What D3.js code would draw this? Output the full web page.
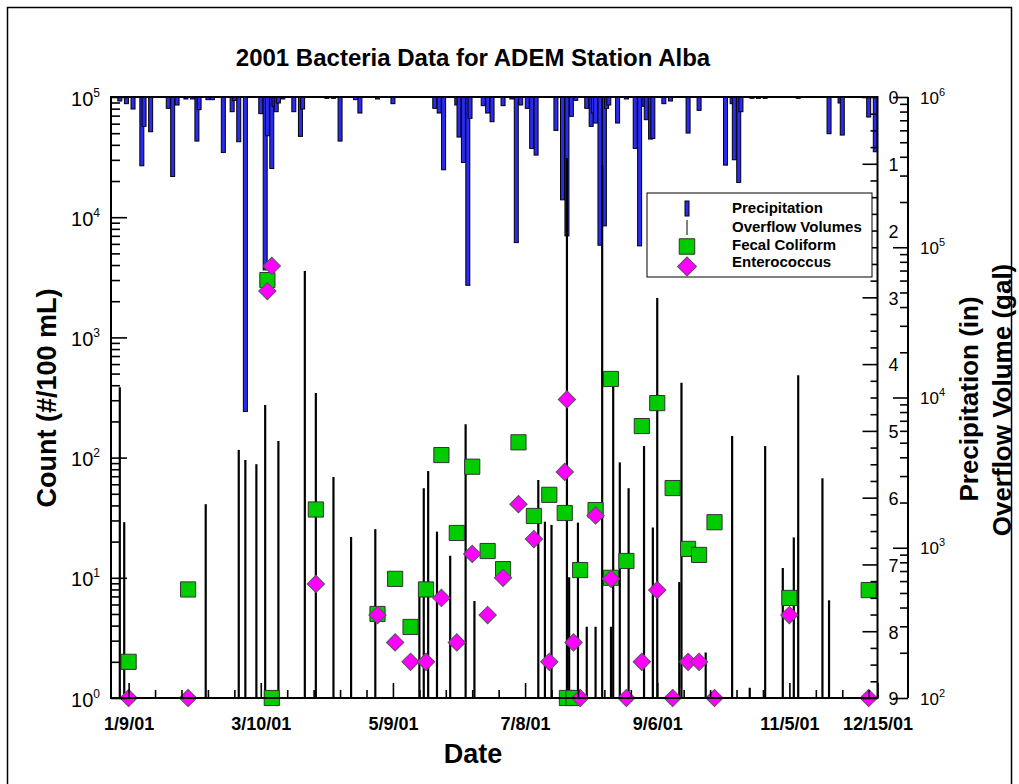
<!DOCTYPE html>
<html><head><meta charset="utf-8">
<script src="https://cdn.jsdelivr.net/npm/d3@7"></script>
<style>
body{margin:0;background:#fff}
svg{display:block;font-family:"Liberation Sans",Arial,Helvetica,sans-serif}
</style></head><body>
<svg id="c" width="1019" height="784"></svg>
<script>
// ---------- data ----------
const precipDates = ["01-05","01-08","01-11","01-15","01-16","01-19","01-27","01-29","01-31","02-04","02-07","02-09","02-10","02-14","02-16","02-21","02-25","02-26","02-28","03-03","03-10","03-12","03-13","03-15","03-16","03-17","03-18","03-20","03-25","03-28","03-29","04-09","04-12","04-15","04-22","04-24","05-02","05-09","05-28","05-30","06-01","06-07","06-08","06-10","06-12","06-13","06-19","06-21","06-23","06-28","07-02","07-04","07-06","07-09","07-11","07-13","07-22","07-25","07-27","07-29","07-31","08-05","08-07","08-08","08-09","08-11","08-13","08-14","08-15","08-19","08-23","08-27","08-29","08-31","09-01","09-03","09-04","09-09","09-12","09-20","09-25","10-07","10-10","10-11","10-13","10-14","10-19","10-22","10-25","11-09","11-23","11-28","11-29","12-11","12-14"];
const precipInches = [0.06,0.10,0.18,1.03,0.44,0.52,0.17,1.19,0.12,0.03,0.03,0.66,0.19,0.04,0.04,0.83,0.22,0.05,0.67,4.71,0.25,2.59,0.58,1.07,0.14,0.22,0.09,0.03,0.22,0.59,0.18,0.02,0.02,0.66,0.04,0.24,0.03,0.10,0.17,0.24,1.09,0.12,0.60,0.98,2.82,0.32,0.13,0.24,0.37,0.13,0.03,2.18,0.12,0.17,0.77,0.87,0.50,1.54,2.08,0.29,0.05,0.17,0.44,0.24,0.39,2.22,1.93,0.17,0.12,0.39,0.03,0.77,2.23,0.14,0.34,0.63,0.62,0.10,0.06,0.54,0.20,1.02,0.10,0.94,1.28,0.22,0.02,0.02,0.02,0.02,0.55,0.09,0.57,0.30,0.82];

const overflowDates = ["01-05","01-07","02-13","02-28","03-03","03-08","03-12","03-18","03-30","04-04","04-12","04-20","05-01","05-21","05-23","05-25","05-29","06-04","06-11","06-15","07-14","07-17","07-20","07-27","07-28","08-01","08-05","08-09","08-12","08-16","08-17","08-20","08-24","08-31","09-04","09-06","09-16","09-17","09-28","10-10","10-18","10-25","11-02","11-07","11-09","11-20","11-23"];
const overflowGallons = [11700,1480,1950,4480,3840,3600,8900,5140,69500,10700,2960,1180,1330,520,2490,3240,1280,885,6640,442,2825,1490,1420,393000,636,1470,298,298,352000,298,11800,3700,2490,4750,1364,45900,592,12560,201,5540,117,4750,733,1172,14070,2900,447];

const fecalDates = ["01-09","02-05","03-13","03-15","04-04","05-02","05-10","05-17","05-24","05-31","06-07","06-14","06-21","06-28","07-05","07-12","07-19","07-26","07-27","07-30","08-02","08-09","08-16","08-16","08-23","08-30","09-06","09-13","09-20","09-25","10-02","11-05","12-11"];
const fecalCounts = [2,8,3000,1,37,5,9.8,3.9,8,105,23.6,84,16.7,11.8,134,32.7,49,34.6,1,1,11.6,36.6,451,10,13.8,183,284,55.8,17.4,15.5,29,6.8,7.9];

const enteroDates = ["01-09","02-05","03-13","03-15","04-04","05-02","05-10","05-17","05-24","05-31","06-07","06-14","06-21","06-28","07-05","07-12","07-19","07-26","07-27","07-30","08-02","08-09","08-16","08-23","08-30","09-06","09-13","09-20","09-25","10-02","11-05","12-11"];
const enteroCounts = [1,1,2430,3930,8.9,4.9,2.9,2,2,6.8,2.9,15.8,4.9,10,41,21,2,76,305,2.9,1,33,9.8,1,2,7.9,1,2,2,1,4.9,1];

const xTickDates = ["01-09","03-10","05-09","07-08","09-06","11-05","12-15"];
const xTickLabels = ["1/9/01","3/10/01","5/9/01","7/8/01","9/6/01","11/5/01","12/15/01"];
const countTicks = [1,10,100,1000,10000,100000];
const countExponents = ["0","1","2","3","4","5"];
const precipTicks = [0,1,2,3,4,5,6,7,8,9];
const overflowTicks = [100,1000,10000,100000,1000000];
const overflowExponents = ["2","3","4","5","6"];
const legendLabels = ["Precipitation","Overflow Volumes","Fecal Coliform","Enterococcus"];

// ---------- setup ----------
const parse = s => d3.timeParse("%Y-%m-%d")("2001-" + s);
const svg = d3.select("#c");
const L = 111, R = 877.5, T = 97, B = 698, AX2 = 908;

const x = d3.scaleTime().domain([parse("01-01"), parse("12-15")]).range([L, R]);
const yCount = d3.scaleLog().domain([1, 1e5]).range([B, T]);
const yPrecip = d3.scaleLinear().domain([0, 9]).range([T, B]);
const yFlow = d3.scaleLog().domain([1e2, 1e6]).range([B, T]);

const BLUE = "#2a2af2", GREEN = "#00cc00", MAGENTA = "#ff00ff";

// outer frame
svg.append("rect").attr("x",7.5).attr("y",7.5).attr("width",1004).attr("height",820)
  .attr("fill","none").attr("stroke","#000").attr("stroke-width",1.5);

// title
svg.append("text").attr("x",473).attr("y",66).attr("text-anchor","middle")
  .attr("font-weight","bold").attr("font-size",24).text("2001 Bacteria Data for ADEM Station Alba");

// ---------- marks ----------
const plot = svg.append("g");
plot.selectAll("rect.bar").data(precipDates.map((d,i)=>({d:parse(d),v:precipInches[i]})))
  .join("rect").attr("class","bar")
  .attr("x",p=>x(p.d)-2).attr("width",4)
  .attr("y",T).attr("height",p=>yPrecip(p.v)-T)
  .attr("fill",BLUE).attr("stroke","#000").attr("stroke-width",1);

plot.selectAll("line.flow").data(overflowDates.map((d,i)=>({d:parse(d),v:overflowGallons[i]})))
  .join("line").attr("class","flow")
  .attr("x1",p=>x(p.d)).attr("x2",p=>x(p.d))
  .attr("y1",B).attr("y2",p=>yFlow(p.v))
  .attr("stroke","#000").attr("stroke-width",2.2);

const sq = d3.symbol(d3.symbolSquare, 230)();
const dm = d3.symbol(d3.symbolSquare, 150)();
plot.selectAll("path.fc").data(fecalDates.map((d,i)=>({d:parse(d),v:fecalCounts[i]})))
  .join("path").attr("class","fc").attr("d",sq)
  .attr("transform",p=>`translate(${x(p.d)},${yCount(p.v)})`)
  .attr("fill",GREEN).attr("stroke","#333").attr("stroke-width",1);
plot.selectAll("path.ec").data(enteroDates.map((d,i)=>({d:parse(d),v:enteroCounts[i]})))
  .join("path").attr("class","ec").attr("d",dm)
  .attr("transform",p=>`translate(${x(p.d)},${yCount(p.v)}) rotate(45)`)
  .attr("fill",MAGENTA).attr("stroke","#555").attr("stroke-width",1);

// ---------- frame & axes ----------
svg.append("rect").attr("x",L).attr("y",T).attr("width",R-L).attr("height",B-T)
  .attr("fill","none").attr("stroke","#000").attr("stroke-width",2);
svg.append("line").attr("x1",AX2).attr("x2",AX2).attr("y1",T).attr("y2",B)
  .attr("stroke","#000").attr("stroke-width",2);

function styleAxis(g){ g.select(".domain").remove(); g.selectAll(".tick line").attr("stroke","#000").attr("stroke-width",1.6); }

// left count axis
const countMinor = [];
for (let e=0;e<5;e++) for (let m=2;m<=9;m++) countMinor.push(m*Math.pow(10,e));
svg.append("g").attr("transform",`translate(${L},0)`)
  .call(d3.axisLeft(yCount).tickValues(countMinor).tickSize(-9).tickFormat(()=>"")).call(styleAxis);
const gl = svg.append("g").attr("transform",`translate(${L},0)`)
  .call(d3.axisLeft(yCount).tickValues(countTicks).tickSize(-16).tickFormat(()=>"")).call(styleAxis);
gl.selectAll(".tick text").remove();
gl.selectAll(".tick").append("text").attr("x",-11).attr("y",8).attr("text-anchor","end")
  .attr("fill","#000").attr("font-size",20)
  .each(function(d,i){ const t=d3.select(this); t.append("tspan").text("10");
    t.append("tspan").attr("font-size",12).attr("dy",-9).text(countExponents[i]); });

// right precip axis
const precipMinor = d3.range(0,9.001,0.25).filter(v=>Math.abs(v-Math.round(v))>1e-6);
svg.append("g").attr("transform",`translate(${R},0)`)
  .call(d3.axisRight(yPrecip).tickValues(precipMinor).tickSize(-7).tickFormat(()=>"")).call(styleAxis);
const gp = svg.append("g").attr("transform",`translate(${R},0)`)
  .call(d3.axisRight(yPrecip).tickValues(precipTicks).tickSize(-15).tickPadding(11).tickFormat(d3.format("d"))).call(styleAxis);
gp.selectAll(".tick text").attr("font-size",18).attr("dy","0.38em").attr("fill","#000");

// second right axis: overflow
const flowMinor = [];
for (let e=2;e<6;e++) for (let m=2;m<=9;m++) flowMinor.push(m*Math.pow(10,e));
svg.append("g").attr("transform",`translate(${AX2},0)`)
  .call(d3.axisRight(yFlow).tickValues(flowMinor).tickSize(-8).tickFormat(()=>"")).call(styleAxis);
const gf = svg.append("g").attr("transform",`translate(${AX2},0)`)
  .call(d3.axisRight(yFlow).tickValues(overflowTicks).tickSize(-15).tickFormat(()=>"")).call(styleAxis);
gf.selectAll(".tick text").remove();
gf.selectAll(".tick").append("text").attr("x",12).attr("y",6).attr("text-anchor","start")
  .attr("fill","#000").attr("font-size",17)
  .each(function(d,i){ const t=d3.select(this); t.append("tspan").text("10");
    t.append("tspan").attr("font-size",11).attr("dy",-8).text(overflowExponents[i]); });

// bottom date axis
const majorDates = xTickDates.map(parse);
const minorDates = [];
for (let i=0;i<majorDates.length-1;i++){
  for (let k=1;;k++){ const dd=d3.timeDay.offset(majorDates[i],12*k); if (dd>=majorDates[i+1]) break; minorDates.push(dd); }
}
svg.append("g").attr("transform",`translate(0,${B})`)
  .call(d3.axisBottom(x).tickValues(minorDates).tickSize(-8).tickFormat(()=>"")).call(styleAxis);
const gx = svg.append("g").attr("transform",`translate(0,${B})`)
  .call(d3.axisBottom(x).tickValues(majorDates).tickSize(-15).tickPadding(19).tickFormat((d,i)=>xTickLabels[i])).call(styleAxis);
gx.selectAll(".tick text").attr("font-size",18).attr("font-weight","bold").attr("fill","#000");

// axis titles
svg.append("text").attr("transform","translate(56,398) rotate(-90)").attr("text-anchor","middle")
  .attr("font-weight","bold").attr("font-size",27).text("Count (#/100 mL)");
svg.append("text").attr("x",473).attr("y",763).attr("text-anchor","middle")
  .attr("font-weight","bold").attr("font-size",27).text("Date");
svg.append("text").attr("transform","translate(978,399) rotate(-90)").attr("text-anchor","middle")
  .attr("font-weight","bold").attr("font-size",26).text("Precipitation (in)");
svg.append("text").attr("transform","translate(1011,400) rotate(-90)").attr("text-anchor","middle")
  .attr("font-weight","bold").attr("font-size",26).text("Overflow Volume (gal)");

// ---------- legend ----------
const lg = svg.append("g");
lg.append("rect").attr("x",647).attr("y",193).attr("width",225).attr("height",84)
  .attr("fill","#fff").attr("stroke","#000").attr("stroke-width",1);
lg.append("rect").attr("x",685).attr("y",201).attr("width",4).attr("height",15)
  .attr("fill",BLUE).attr("stroke","#000").attr("stroke-width",1);
lg.append("line").attr("x1",687).attr("x2",687).attr("y1",220).attr("y2",235).attr("stroke","#000").attr("stroke-width",1);
lg.append("path").attr("d",d3.symbol(d3.symbolSquare,240)()).attr("transform","translate(687,246.5)")
  .attr("fill",GREEN).attr("stroke","#333");
lg.append("path").attr("d",d3.symbol(d3.symbolSquare,180)()).attr("transform","translate(687,266.5) rotate(45)")
  .attr("fill",MAGENTA).attr("stroke","#555");
const legendY = [213, 231.7, 250, 267];
lg.selectAll("text.lt").data(legendLabels).join("text").attr("class","lt")
  .attr("x",732).attr("y",(d,i)=>legendY[i]).attr("font-size",15).attr("font-weight","bold").text(d=>d);
</script>
</body></html>
